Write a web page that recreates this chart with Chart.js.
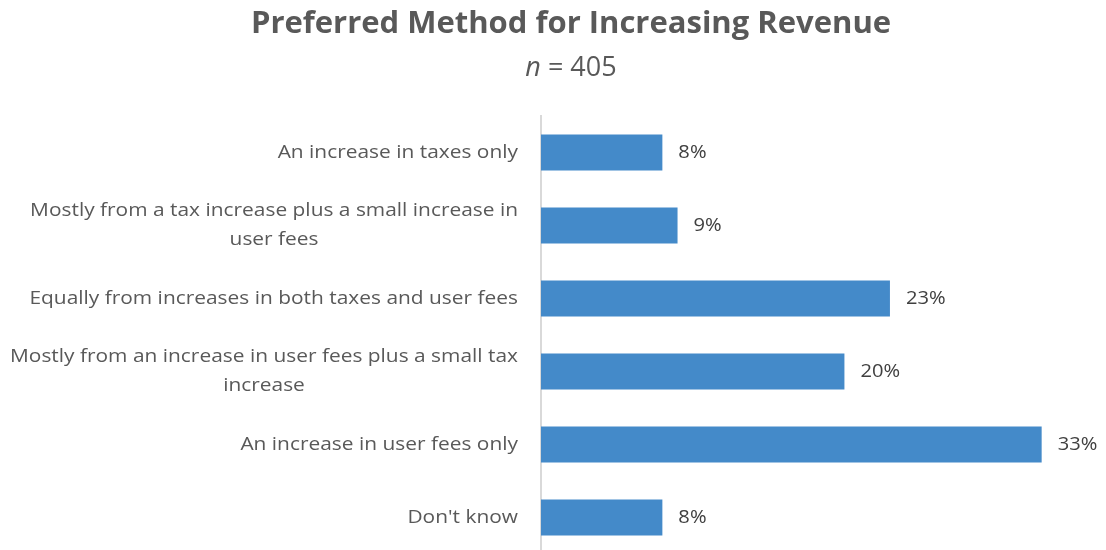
<!DOCTYPE html>
<html>
<head>
<meta charset="utf-8">
<script src="https://cdn.jsdelivr.net/npm/chart.js@4/dist/chart.umd.min.js"></script>
<style>
  html, body { margin: 0; padding: 0; background: #fff; overflow: hidden; }
  #wrap { width: 1106px; height: 554px; position: relative; }
</style>
</head>
<body>
<div id="wrap"><canvas id="revChart"></canvas></div>
<script>
// survey answers, top to bottom
var categories = [
    ['An increase in taxes only'],
    ['Mostly from a tax increase plus a small increase in', 'user fees'],
    ['Equally from increases in both taxes and user fees'],
    ['Mostly from an increase in user fees plus a small tax', 'increase'],
    ['An increase in user fees only'],
    ["Don't know"]
];
var percents = [8, 9, 23, 20, 33, 8];
var chartTitle = 'Preferred Method for Increasing Revenue';
var sampleSize = 405;

var FONT = '"Open Sans", "DejaVu Sans", sans-serif';

// fillText with a horizontal stretch, x is the left edge
function wideText(ctx, txt, x, y, sx) {
    ctx.save();
    ctx.translate(x, y);
    ctx.scale(sx, 1);
    ctx.textAlign = 'left';
    ctx.fillText(txt, 0, 0);
    ctx.restore();
}

// title + "n = 405" subtitle (n in italics)
var headerPlugin = {
    id: 'header',
    afterDraw: function(chart) {
        var ctx = chart.ctx;
        var cx = 571;
        ctx.save();
        ctx.fillStyle = '#595959';
        ctx.textBaseline = 'alphabetic';
        ctx.textAlign = 'center';
        ctx.font = 'bold 31px ' + FONT;
        ctx.fillText(chartTitle, cx, 33);

        var rest = ' = ' + sampleSize;
        ctx.font = 'italic 27px ' + FONT;
        var wn = ctx.measureText('n').width;
        ctx.font = '27px ' + FONT;
        var wr = ctx.measureText(rest).width;
        var x0 = cx - (wn + wr) / 2;
        ctx.textAlign = 'left';
        ctx.font = 'italic 27px ' + FONT;
        ctx.fillText('n', x0, 76);
        ctx.font = '27px ' + FONT;
        ctx.fillText(rest, x0 + wn, 76);
        ctx.restore();
    }
};

// category labels: block right-aligned to the axis, lines centred inside the block
var categoryLabels = {
    id: 'categoryLabels',
    afterDraw: function(chart) {
        var ctx = chart.ctx;
        var yScale = chart.scales.y;
        var right = chart.chartArea.left - 23;
        var lineH = 29;
        var sx = 1.10;
        ctx.save();
        ctx.font = '19px ' + FONT;
        ctx.fillStyle = '#595959';
        ctx.textBaseline = 'middle';
        categories.forEach(function(lines, i) {
            var y = yScale.getPixelForTick(i);
            var widths = lines.map(function(l) { return ctx.measureText(l).width * sx; });
            var w = Math.max.apply(null, widths);
            var cx = right - w / 2;
            var top = y - (lines.length - 1) * lineH / 2;
            lines.forEach(function(l, k) {
                wideText(ctx, l, cx - widths[k] / 2, top + k * lineH, sx);
            });
        });
        ctx.restore();
    }
};

// percentage next to each bar end
var valueLabels = {
    id: 'valueLabels',
    afterDatasetsDraw: function(chart) {
        var ctx = chart.ctx;
        var meta = chart.getDatasetMeta(0);
        ctx.save();
        ctx.font = '19px ' + FONT;
        ctx.fillStyle = '#404040';
        ctx.textBaseline = 'middle';
        meta.data.forEach(function(bar, i) {
            wideText(ctx, percents[i] + '%', bar.x + 16, bar.y, 1.06);
        });
        ctx.restore();
    }
};

var revChart = new Chart(document.getElementById('revChart'), {
    type: 'bar',
    data: {
        labels: categories,
        datasets: [{
            data: percents,
            backgroundColor: '#448AC9',
            borderWidth: 0,
            categoryPercentage: 1,
            barPercentage: 0.49
        }]
    },
    options: {
        indexAxis: 'y',
        responsive: true,
        maintainAspectRatio: false,
        animation: false,
        layout: { padding: { top: 116, right: 34, bottom: 0, left: 0 } },
        plugins: {
            legend: { display: false },
            title: { display: false },
            tooltip: { enabled: false }
        },
        scales: {
            x: {
                display: false,
                min: 0,
                max: 35
            },
            y: {
                afterFit: function(s) { s.width = 541; },
                grid: { display: false },
                border: { display: true, color: '#d9d9d9', width: 2 },
                ticks: { display: false }
            }
        }
    },
    plugins: [headerPlugin, categoryLabels, valueLabels]
});
</script>
</body>
</html>
